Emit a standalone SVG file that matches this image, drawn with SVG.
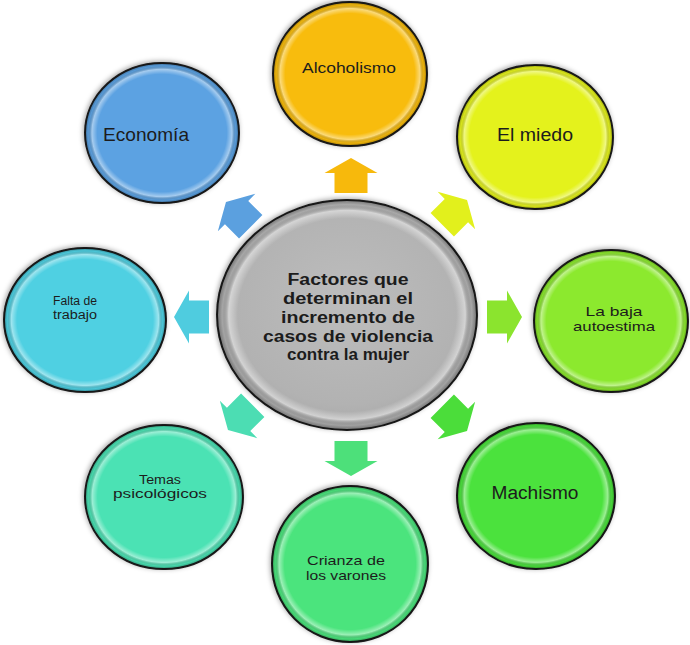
<svg xmlns="http://www.w3.org/2000/svg" width="690" height="645" viewBox="0 0 690 645">
  <style>
    .node { stroke: #1a1a1a; stroke-width: 2; filter: url(#shadow); }
    .bevel { fill: url(#bevel); stroke: none; }
    .lbl { font-family: "Liberation Sans", Arial, sans-serif; fill: #1c1c1c; text-anchor: middle; }
    .ctr { font-family: "Liberation Sans", Arial, sans-serif; font-weight: bold; fill: #1c1c1c; text-anchor: middle; font-size: 16px; }
    .arrow { stroke: none; }
  </style>
  <defs>
    <radialGradient id="bevel" cx="0.5" cy="0.5" r="0.5">
      <stop offset="0" stop-color="#ffffff" stop-opacity="0"/>
      <stop offset="0.84" stop-color="#ffffff" stop-opacity="0"/>
      <stop offset="0.91" stop-color="#ffffff" stop-opacity="0.45"/>
      <stop offset="0.96" stop-color="#000000" stop-opacity="0.05"/>
      <stop offset="1" stop-color="#000000" stop-opacity="0.35"/>
    </radialGradient>
    <radialGradient id="grayfill" cx="0.5" cy="0.45" r="0.55">
      <stop offset="0" stop-color="#bdbdbd"/>
      <stop offset="0.8" stop-color="#b2b2b2"/>
      <stop offset="1" stop-color="#a8a8a8"/>
    </radialGradient>
    <filter id="shadow" x="-10%" y="-10%" width="120%" height="120%">
      <feDropShadow dx="-1" dy="-1" stdDeviation="2.5" flood-color="#000" flood-opacity="0.35"/>
    </filter>
    <path id="arr" d="M-16.5,18 L16.5,18 L16.5,-2 L26.5,-2 L0,-17 L-26.5,-2 L-16.5,-2 Z"/>
  </defs>
  <rect width="690" height="645" fill="#ffffff"/>

  <g id="connectors">
    <use href="#arr" class="arrow" fill="#F7B90C" transform="translate(351,175)"/>
    <use href="#arr" class="arrow" fill="#E2F01C" transform="translate(455,212) rotate(45)"/>
    <use href="#arr" class="arrow" fill="#8BE42E" transform="translate(505,317) rotate(90)"/>
    <use href="#arr" class="arrow" fill="#4BDD3A" transform="translate(455,419) rotate(135)"/>
    <use href="#arr" class="arrow" fill="#4DE07A" transform="translate(351,459) rotate(180)"/>
    <use href="#arr" class="arrow" fill="#4CDDB3" transform="translate(240,418) rotate(-135)"/>
    <use href="#arr" class="arrow" fill="#4FCCDF" transform="translate(191,317) rotate(-90)"/>
    <use href="#arr" class="arrow" fill="#5BA0DF" transform="translate(238,214) rotate(-45)"/>
  </g>

  <g id="center">
    <ellipse class="node" cx="347" cy="315" rx="130" ry="115" fill="url(#grayfill)"/>
    <ellipse class="bevel" cx="347" cy="315" rx="130" ry="115"/>
    <text class="ctr" x="348" y="285" textLength="121" lengthAdjust="spacingAndGlyphs">Factores que</text>
    <text class="ctr" x="348" y="304" textLength="130" lengthAdjust="spacingAndGlyphs">determinan el</text>
    <text class="ctr" x="348" y="322.5" textLength="134" lengthAdjust="spacingAndGlyphs">incremento de</text>
    <text class="ctr" x="348" y="341.5" textLength="170" lengthAdjust="spacingAndGlyphs">casos de violencia</text>
    <text class="ctr" x="348" y="360" textLength="122" lengthAdjust="spacingAndGlyphs">contra la mujer</text>
  </g>

  <g id="alcoholismo">
    <ellipse class="node" cx="350" cy="74" rx="77" ry="72" fill="#F8BC0C"/>
    <ellipse class="bevel" cx="350" cy="74" rx="77" ry="72"/>
    <text class="lbl" x="349" y="73" font-size="15" textLength="94" lengthAdjust="spacingAndGlyphs">Alcoholismo</text>
  </g>

  <g id="el-miedo">
    <ellipse class="node" cx="535" cy="137" rx="78" ry="72" fill="#E4F21A"/>
    <ellipse class="bevel" cx="535" cy="137" rx="78" ry="72"/>
    <text class="lbl" x="535" y="141" font-size="18" textLength="76" lengthAdjust="spacingAndGlyphs">El miedo</text>
  </g>

  <g id="la-baja-autoestima">
    <ellipse class="node" cx="611" cy="321" rx="77" ry="71" fill="#8CE92D"/>
    <ellipse class="bevel" cx="611" cy="321" rx="77" ry="71"/>
    <text class="lbl" x="614" y="316" font-size="13" textLength="57" lengthAdjust="spacingAndGlyphs">La baja</text>
    <text class="lbl" x="614" y="331" font-size="13" textLength="82" lengthAdjust="spacingAndGlyphs">autoestima</text>
  </g>

  <g id="machismo">
    <ellipse class="node" cx="536" cy="496" rx="79" ry="73" fill="#4BE23C"/>
    <ellipse class="bevel" cx="536" cy="496" rx="79" ry="73"/>
    <text class="lbl" x="535" y="499" font-size="18" textLength="87" lengthAdjust="spacingAndGlyphs">Machismo</text>
  </g>

  <g id="crianza">
    <ellipse class="node" cx="350" cy="564" rx="78" ry="78" fill="#4CE47D"/>
    <ellipse class="bevel" cx="350" cy="564" rx="78" ry="78"/>
    <text class="lbl" x="346" y="565" font-size="13" textLength="78" lengthAdjust="spacingAndGlyphs">Crianza de</text>
    <text class="lbl" x="346" y="580" font-size="13" textLength="80" lengthAdjust="spacingAndGlyphs">los varones</text>
  </g>

  <g id="temas-psicologicos">
    <ellipse class="node" cx="164" cy="497" rx="79" ry="72" fill="#4CE2B4"/>
    <ellipse class="bevel" cx="164" cy="497" rx="79" ry="72"/>
    <text class="lbl" x="160" y="484" font-size="12" textLength="42" lengthAdjust="spacingAndGlyphs">Temas</text>
    <text class="lbl" x="160" y="498" font-size="12" textLength="94" lengthAdjust="spacingAndGlyphs">psicológicos</text>
  </g>

  <g id="falta-de-trabajo">
    <ellipse class="node" cx="85" cy="320" rx="81" ry="72" fill="#4FD0E2"/>
    <ellipse class="bevel" cx="85" cy="320" rx="81" ry="72"/>
    <text class="lbl" x="75" y="305" font-size="12" textLength="44" lengthAdjust="spacingAndGlyphs" fill="#1d2f4a">Falta de</text>
    <text class="lbl" x="75" y="319" font-size="12" textLength="44" lengthAdjust="spacingAndGlyphs" fill="#1d2f4a">trabajo</text>
  </g>

  <g id="economia">
    <ellipse class="node" cx="162" cy="133" rx="77" ry="70" fill="#5BA2E2"/>
    <ellipse class="bevel" cx="162" cy="133" rx="77" ry="70"/>
    <text class="lbl" x="146" y="141" font-size="19" textLength="86" lengthAdjust="spacingAndGlyphs" fill="#1b2f55">Economía</text>
  </g>
</svg>
